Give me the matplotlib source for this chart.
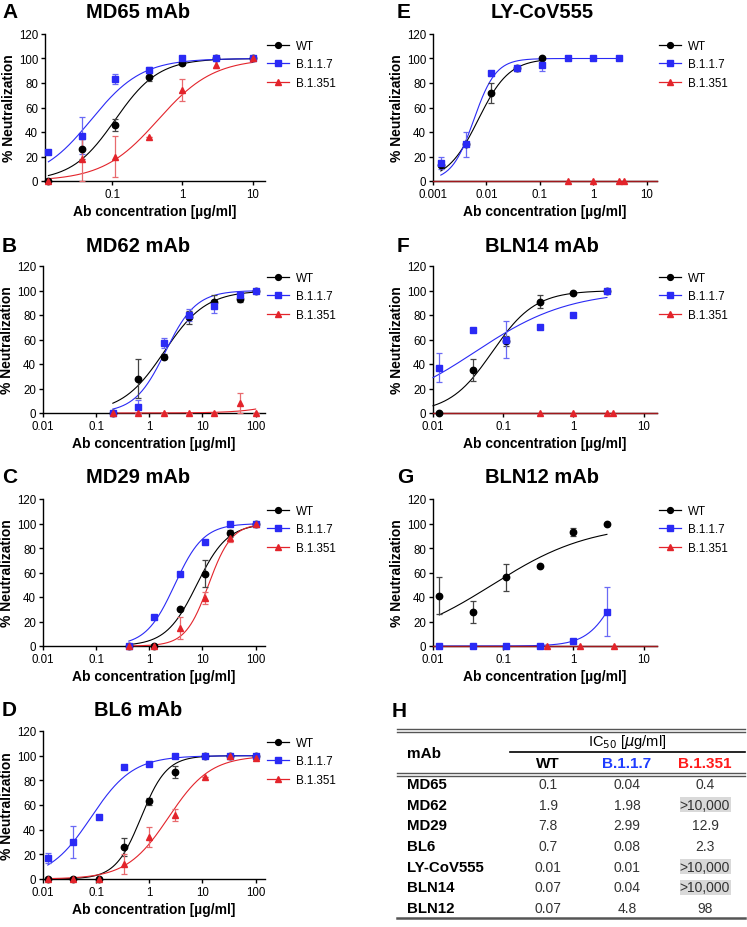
import numpy as np
import matplotlib
matplotlib.use("Agg")
import matplotlib.pyplot as plt
from matplotlib.lines import Line2D
from matplotlib.ticker import FixedLocator, NullLocator, FixedFormatter

plt.rcParams['font.family'] = ['Liberation Sans', 'DejaVu Sans']

# ---- data ----
SERIES = ["WT", "B.1.1.7", "B.1.351"]

# A  MD65
a_x = [0.0123, 0.037, 0.111, 0.333, 1, 3, 10]
a_wt = [0, 26, 46, 85, 96, 100, 100]
a_wt_err = [0, 8, 5, 3, 1, 0, 0]
a_b117 = [24, 37, 83, 91, 100, 100, 100]
a_b117_err = [0, 15, 4, 2, 1, 0, 0]
a_b1351 = [0, 18, 20, 36, 74, 95, 100]
a_b1351_err = [0, 18, 17, 0, 9, 3, 0]
a_fit = [(0.11, 1.4), (0.05, 1.2), (0.45, 1.1)]

# B  MD62
b_x = [0.206, 0.617, 1.85, 5.56, 16.7, 50, 100]
b_wt = [0, 28, 46, 78, 91, 93, 100]
b_wt_err = [0, 16, 2, 5, 5, 2, 0]
b_b117 = [0, 5, 57, 80, 87, 96, 100]
b_b117_err = [0, 6, 4, 5, 5, 3, 0]
b_b1351 = [0, 0, 0, 0, 0, 8, 0]
b_b1351_err = [0, 0, 0, 0, 0, 8, 0]
b_fit = [(1.9, 1.1), (2.0, 1.5), (3000, 1.0)]

# C  MD29
c_x = [0.412, 1.23, 3.7, 11.1, 33.3, 100]
c_wt = [0, 0, 30, 59, 92, 100]
c_wt_err = [0, 0, 1, 11, 3, 0]
c_b117 = [0, 24, 59, 85, 100, 100]
c_b117_err = [0, 0, 0, 0, 0, 0]
c_b1351 = [0, 0, 15, 39, 88, 100]
c_b1351_err = [0, 0, 9, 5, 3, 0]
c_fit = [(7.8, 1.5), (3.0, 1.6), (13, 2.0)]

# D  BL6
d_x = [0.0123, 0.037, 0.111, 0.333, 1, 3, 11.1, 33.3, 100]
d_wt = [0, 0, 0, 26, 63, 87, 100, 100, 100]
d_wt_err = [0, 0, 0, 7, 3, 5, 0, 0, 0]
d_b117 = [17, 30, 50, 91, 93, 100, 100, 100, 100]
d_b117_err = [4, 13, 0, 0, 0, 0, 0, 0, 0]
d_b1351 = [0, 0, 0, 12, 34, 52, 83, 100, 98]
d_b1351_err = [0, 0, 0, 8, 8, 5, 0, 0, 0]
d_fit = [(0.7, 1.8), (0.08, 1.1), (2.3, 1.1)]

# E  LY-CoV555
e_x_wt = [0.0014, 0.0041, 0.0123, 0.037, 0.111]
e_wt = [13, 30, 72, 92, 100]
e_wt_err = [0, 0, 8, 2, 0]
e_x_b117 = [0.0014, 0.0041, 0.0123, 0.037, 0.111, 0.333, 1, 3]
e_b117 = [15, 30, 88, 92, 95, 100, 100, 100]
e_b117_err = [5, 10, 2, 2, 5, 0, 0, 0]
e_x_b1351 = [0.333, 1, 3, 3.7]
e_b1351 = [0, 0, 0, 0]
e_fit = [(0.007, 1.5), (0.0058, 2.1)]

# F  BLN14
f_x = [0.0123, 0.037, 0.111, 0.333, 1, 3]
f_wt = [0, 35, 59, 91, 98, 100]
f_wt_err = [0, 9, 4, 5, 1, 0]
f_b117 = [37, 68, 60, 70, 80, 100]
f_b117_err = [12, 0, 15, 0, 0, 0]
f_x_b1351 = [0.333, 1, 3, 3.7]
f_b1351 = [0, 0, 0, 0]
f_fit = [(0.07, 1.42), (0.04, 0.65)]

# G  BLN12
g_x = [0.0123, 0.037, 0.111, 0.333, 1, 3]
g_wt = [41, 28, 56, 65, 93, 100]
g_wt_err = [15, 9, 11, 0, 3, 0]
g_b117 = [0, 0, 0, 0, 4, 28]
g_b117_err = [0, 0, 0, 0, 0, 20]
g_x_b1351 = [0.42, 1.25, 3.75]
g_b1351 = [0, 0, 0]
g_fit = [(0.07, 0.62), (4.8, 2.0)]

# H  IC50 table
mabs = ["MD65", "MD62", "MD29", "BL6", "LY-CoV555", "BLN14", "BLN12"]
ic50_wt = ["0.1", "1.9", "7.8", "0.7", "0.01", "0.07", "0.07"]
ic50_b117 = ["0.04", "1.98", "2.99", "0.08", "0.01", "0.04", "4.8"]
ic50_b1351 = ["0.4", ">10,000", "12.9", "2.3", ">10,000", ">10,000", "98"]

COLORS = ["black", "#2a2af5", "#e3242b"]
ERR_COLORS = ["#444444", "#6a6af5", "#e86a6e"]
MARKERS = ["o", "s", "^"]
W, H = 747, 928


def box(l, t, r, b):
    """
    Convert pixel box to figure fraction
    """
    return [l / W, 1 - b / H, (r - l) / W, (b - t) / H]


def logistic(x, ic50, hill):
    return 100.0 / (1.0 + (ic50 / x) ** hill)


def plot_series(ax, x, y, err, i):
    ax.errorbar(x, y, yerr=err, fmt=MARKERS[i], color=COLORS[i], ms=5 if i else 4.6,
                ecolor=ERR_COLORS[i], elinewidth=0.9, capsize=2.5, capthick=0.9,
                clip_on=False, zorder=4)


def plot_fit(ax, xmin, xmax, fit, i):
    xs = np.logspace(np.log10(xmin), np.log10(xmax), 300)
    ax.plot(xs, logistic(xs, *fit), color=COLORS[i], lw=0.8, zorder=3, clip_on=False)


def style_axis(ax, xlim, ticks, labels, letter, title, lx, tx, ty):
    ax.set_xscale("log")
    ax.set_xlim(*xlim)
    ax.set_ylim(0, 120)
    ax.xaxis.set_major_locator(FixedLocator(ticks))
    ax.xaxis.set_major_formatter(FixedFormatter(labels))
    ax.xaxis.set_minor_locator(NullLocator())
    ax.set_yticks([0, 20, 40, 60, 80, 100, 120])
    for s in ["top", "right"]:
        ax.spines[s].set_visible(False)
    for s in ["left", "bottom"]:
        ax.spines[s].set_linewidth(1.0)
    ax.tick_params(length=3, width=1.0, labelsize=8.3, pad=2)
    ax.set_xlabel("Ab concentration [µg/ml]", fontsize=10, fontweight="bold", labelpad=3)
    ax.set_ylabel("% Neutralization", fontsize=10, fontweight="bold", labelpad=2)
    fig = ax.figure
    fig.text(lx / W, 1 - ty / H, letter, fontsize=15, fontweight="bold", va="center", ha="left")
    fig.text(tx / W, 1 - ty / H, title, fontsize=14.5, fontweight="bold", va="center", ha="center")


def add_legend(ax, ypos):
    handles = [Line2D([0], [0], color=COLORS[i], marker=MARKERS[i], lw=0.9,
                      ms=4.5 if i else 4.2) for i in range(3)]
    ax.legend(handles, SERIES, loc="upper left", bbox_to_anchor=(1.01, ypos),
              frameon=False, fontsize=8.4, handlelength=1.9, handletextpad=0.6,
              labelspacing=0.55, borderpad=0, borderaxespad=0)


fig = plt.figure(figsize=(W / 100, H / 100), dpi=100)

left_ticks = [0.01, 0.1, 1, 10, 100]
left_labels = ["0.01", "0.1", "1", "10", "100"]

# A
ax = fig.add_axes(box(45, 35, 265, 182))
for i, (y, e) in enumerate([(a_wt, a_wt_err), (a_b117, a_b117_err), (a_b1351, a_b1351_err)]):
    plot_fit(ax, a_x[0], a_x[-1], a_fit[i], i)
    plot_series(ax, a_x, y, e, i)
style_axis(ax, (0.011, 15), left_ticks[:4], left_labels[:4], "A", "MD65 mAb", 2, 138, 13)
add_legend(ax, 0.96)

# B
ax = fig.add_axes(box(43, 267, 265, 414))
for i, (y, e) in enumerate([(b_wt, b_wt_err), (b_b117, b_b117_err), (b_b1351, b_b1351_err)]):
    plot_fit(ax, b_x[0], b_x[-1], b_fit[i], i)
    plot_series(ax, b_x, y, e, i)
style_axis(ax, (0.01, 150), left_ticks, left_labels, "B", "MD62 mAb", 2, 138, 246)
add_legend(ax, 0.96)

# C
ax = fig.add_axes(box(43, 500, 265, 647))
for i, (y, e) in enumerate([(c_wt, c_wt_err), (c_b117, c_b117_err), (c_b1351, c_b1351_err)]):
    plot_fit(ax, c_x[0], c_x[-1], c_fit[i], i)
    plot_series(ax, c_x, y, e, i)
style_axis(ax, (0.01, 150), left_ticks, left_labels, "C", "MD29 mAb", 2, 138, 478)
add_legend(ax, 0.96)

# D
ax = fig.add_axes(box(43, 732, 265, 880))
for i, (y, e) in enumerate([(d_wt, d_wt_err), (d_b117, d_b117_err), (d_b1351, d_b1351_err)]):
    plot_fit(ax, d_x[0], d_x[-1], d_fit[i], i)
    plot_series(ax, d_x, y, e, i)
style_axis(ax, (0.01, 150), left_ticks, left_labels, "D", "BL6 mAb", 2, 138, 711)
add_legend(ax, 0.96)

right_ticks = [0.001, 0.01, 0.1, 1, 10]
right_labels = ["0.001", "0.01", "0.1", "1", "10"]

# E
ax = fig.add_axes(box(433, 35, 657, 182))
plot_fit(ax, e_x_wt[0], e_x_wt[-1], e_fit[0], 0)
plot_fit(ax, e_x_b117[0], e_x_b117[-1], e_fit[1], 1)
ax.plot([0.001, 15.5], [0, 0], color="#a0181c", lw=1.0, zorder=3, clip_on=False)
plot_series(ax, e_x_wt, e_wt, e_wt_err, 0)
plot_series(ax, e_x_b117, e_b117, e_b117_err, 1)
plot_series(ax, e_x_b1351, e_b1351, None, 2)
style_axis(ax, (0.001, 15.5), right_ticks, right_labels, "E", "LY-CoV555", 397, 542, 13)
add_legend(ax, 0.96)

# F
ax = fig.add_axes(box(433, 267, 657, 414))
plot_fit(ax, 0.01, f_x[-1], f_fit[0], 0)
plot_fit(ax, 0.01, f_x[-1], f_fit[1], 1)
ax.plot([0.01, 15.5], [0, 0], color="#a0181c", lw=1.0, zorder=3, clip_on=False)
plot_series(ax, f_x, f_wt, f_wt_err, 0)
plot_series(ax, f_x, f_b117, f_b117_err, 1)
plot_series(ax, f_x_b1351, f_b1351, None, 2)
style_axis(ax, (0.01, 15.5), right_ticks[1:], right_labels[1:], "F", "BLN14 mAb", 397, 542, 246)
add_legend(ax, 0.96)

# G
ax = fig.add_axes(box(433, 500, 657, 647))
plot_fit(ax, g_x[0], g_x[-1], g_fit[0], 0)
plot_fit(ax, g_x[0], g_x[-1], g_fit[1], 1)
ax.plot([0.01, 15.5], [0, 0], color="#a0181c", lw=1.0, zorder=3, clip_on=False)
plot_series(ax, g_x, g_wt, g_wt_err, 0)
plot_series(ax, g_x, g_b117, g_b117_err, 1)
plot_series(ax, g_x_b1351, g_b1351, None, 2)
style_axis(ax, (0.01, 15.5), right_ticks[1:], right_labels[1:], "G", "BLN12 mAb", 397, 542, 478)
add_legend(ax, 0.96)

# H table, drawn in pixel coordinates
tab = fig.add_axes([0, 0, 1, 1])
tab.set_xlim(0, W)
tab.set_ylim(H, 0)
tab.axis("off")
tab.patch.set_alpha(0)
tab.text(392, 712, "H", fontsize=15, fontweight="bold", va="center", ha="left")
grey = "#555555"
for yy in (730, 733):
    tab.plot([397, 745], [yy, yy], color=grey, lw=1.0)
for yy in (774, 777):
    tab.plot([397, 745], [yy, yy], color=grey, lw=1.0)
tab.plot([510, 745], [753, 753], color="black", lw=1.2)
tab.plot([397, 745], [919, 919], color=grey, lw=1.8)
tab.text(627, 742, "IC$_{50}$ [$\\mu$g/ml]", fontsize=10.5, ha="center", va="center")
tab.text(407, 754, "mAb", fontsize=11, fontweight="bold", ha="left", va="center")
col_x = [548, 627, 705]
for cx, name, c in zip(col_x, SERIES, ["black", "#1f3dff", "#ff1a1a"]):
    tab.text(cx, 764, name, fontsize=11, fontweight="bold", ha="center", va="center", color=c)
for r, m in enumerate(mabs):
    yy = 785 + r * 20.7
    tab.text(407, yy, m, fontsize=10.8, fontweight="bold", ha="left", va="center")
    for cx, vals in zip(col_x, [ic50_wt, ic50_b117, ic50_b1351]):
        v = vals[r]
        if v.startswith(">"):
            tab.add_patch(plt.Rectangle((680, yy - 7.5), 51, 15, color="#d9d9d9", lw=0, zorder=0))
        tab.text(cx, yy, v, fontsize=10, ha="center", va="center", color="#333333")

fig.savefig("out.png", dpi=100)
